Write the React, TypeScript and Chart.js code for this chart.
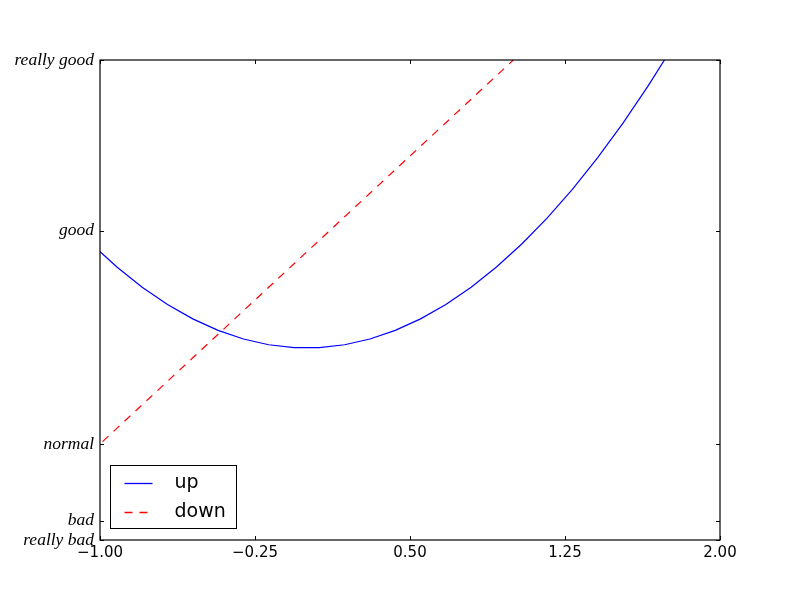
import React, { useEffect, useRef } from "react";
import { Chart, registerables } from "chart.js";

Chart.register(...registerables);

// x = sample positions (evenly spaced from -3 to 3, 50 points; visible part)
const xValues = [
  -1.040816, -0.918367, -0.795918, -0.673469, -0.55102, -0.428571, -0.306122,
  -0.183673, -0.061224, 0.061224, 0.183673, 0.306122, 0.428571, 0.55102,
  0.673469, 0.795918, 0.918367, 1.040816, 1.163265, 1.285714, 1.408163,
  1.530612, 1.653061, 1.77551, 1.897959, 2.020408,
];
const upValues = [
  1.083299, 0.843399, 0.633486, 0.453561, 0.303623, 0.183673, 0.093711,
  0.033736, 0.003748, 0.003748, 0.033736, 0.093711, 0.183673, 0.303623,
  0.453561, 0.633486, 0.843399, 1.083299, 1.353186, 1.653061, 1.982924,
  2.342774, 2.732611, 3.152436, 3.602249, 4.082049,
];
const downValues = [
  -1.081633, -0.836735, -0.591837, -0.346939, -0.102041, 0.142857, 0.387755,
  0.632653, 0.877551, 1.122449, 1.367347, 1.612245, 1.857143, 2.102041,
  2.346939, 2.591837, 2.836735, 3.081633, 3.326531, 3.571429, 3.816327,
  4.061224, 4.306122, 4.55102, 4.795918, 5.040816,
];
const xTicks = [-1, -0.25, 0.5, 1.25, 2];
const xTickLabels = ["\u22121.00", "\u22120.25", "0.50", "1.25", "2.00"];
const yTicks = [-2, -1.8, -1, 1.22, 3];
const yTickLabels = ["really bad", "bad", "normal", "good", "really good"];
const seriesLabels = ["up", "down"];

const frameAndLegend = {
  id: "frameAndLegend",
  afterDatasetsDraw(chart: any) {
    const { ctx, chartArea: a, scales } = chart;
    const xs = scales.x;
    const ys = scales.y;
    ctx.save();
    ctx.strokeStyle = "#000";
    ctx.lineWidth = 1;
    // ticks inward
    ctx.beginPath();
    xTicks.forEach((v) => {
      const px = Math.round(xs.getPixelForValue(v)) + 0.5;
      ctx.moveTo(px, a.bottom);
      ctx.lineTo(px, a.bottom - 4);
      ctx.moveTo(px, a.top);
      ctx.lineTo(px, a.top + 4);
    });
    yTicks.forEach((v) => {
      const py = Math.round(ys.getPixelForValue(v)) + 0.5;
      ctx.moveTo(a.left, py);
      ctx.lineTo(a.left + 4, py);
      ctx.moveTo(a.right, py);
      ctx.lineTo(a.right - 4, py);
    });
    ctx.stroke();
    // frame
    ctx.lineWidth = 1.2;
    ctx.strokeRect(a.left, a.top, a.right - a.left, a.bottom - a.top);

    // legend
    const bx = a.left + 10.5;
    const by = a.bottom - 74.5;
    const bw = 126;
    const bh = 63;
    ctx.fillStyle = "#fff";
    ctx.fillRect(bx, by, bw, bh);
    ctx.lineWidth = 1;
    ctx.strokeStyle = "#000";
    ctx.strokeRect(bx, by, bw, bh);
    const rowsY = [by + 17, by + 46];
    chart.data.datasets.forEach((ds: any, i: number) => {
      const y = rowsY[i];
      ctx.beginPath();
      ctx.strokeStyle = ds.borderColor;
      ctx.lineWidth = 1.3;
      ctx.setLineDash(ds.borderDash || []);
      ctx.moveTo(bx + 14, Math.round(y) + 0.5);
      ctx.lineTo(bx + 42, Math.round(y) + 0.5);
      ctx.stroke();
      ctx.setLineDash([]);
      ctx.fillStyle = "#000";
      ctx.font = "19px 'DejaVu Sans'";
      ctx.textBaseline = "middle";
      ctx.textAlign = "left";
      ctx.fillText(ds.label, bx + 64, y + 1);
    });
    ctx.restore();
  },
};

export default function App() {
  const ref = useRef<HTMLCanvasElement>(null);
  useEffect(() => {
    if (!ref.current) return;
    const chart = new Chart(ref.current, {
      type: "line",
      data: {
        datasets: [
          {
            label: seriesLabels[0],
            data: xValues.map((x, i) => ({ x, y: upValues[i] })),
            borderColor: "#0000ff",
            borderWidth: 1.2,
            pointRadius: 0,
            tension: 0,
            fill: false,
          },
          {
            label: seriesLabels[1],
            data: xValues.map((x, i) => ({ x, y: downValues[i] })),
            borderColor: "#ff0000",
            borderWidth: 1.2,
            borderDash: [8, 7],
            pointRadius: 0,
            tension: 0,
            fill: false,
          },
        ],
      },
      options: {
        animation: false,
        responsive: false,
        devicePixelRatio: 1,
        layout: { padding: { top: 60, right: 80, left: 0, bottom: 0 } },
        plugins: { legend: { display: false }, tooltip: { enabled: false } },
        scales: {
          x: {
            type: "linear",
            min: -1,
            max: 2,
            afterBuildTicks: (s: any) => {
              s.ticks = xTicks.map((v) => ({ value: v }));
            },
            afterFit: (s: any) => {
              s.height = 60;
            },
            grid: { display: false, tickLength: 0 },
            border: { display: false },
            ticks: {
              color: "#000",
              padding: 4,
              maxRotation: 0,
              font: { family: "'DejaVu Sans'", size: 15 },
              callback: (v: any) => xTickLabels[xTicks.indexOf(Number(v))] ?? "",
            },
          },
          y: {
            type: "linear",
            min: -2,
            max: 3,
            afterBuildTicks: (s: any) => {
              s.ticks = yTicks.map((v) => ({ value: v }));
            },
            afterFit: (s: any) => {
              s.width = 100;
            },
            grid: { display: false, tickLength: 0 },
            border: { display: false },
            ticks: {
              color: "#000",
              padding: 6,
              autoSkip: false,
              font: { family: "'Liberation Serif'", size: 17.5, style: "italic" },
              callback: (v: any) => {
                const idx = yTicks.findIndex((t) => Math.abs(t - Number(v)) < 1e-6);
                return idx >= 0 ? yTickLabels[idx] : "";
              },
            },
          },
        },
      },
      plugins: [frameAndLegend],
    });
    return () => chart.destroy();
  }, []);
  return (
    <div style={{ position: "fixed", left: 0, top: 0, width: 800, height: 600, background: "#fff" }}>
      <canvas ref={ref} width={800} height={600} style={{ width: 800, height: 600 }} />
    </div>
  );
}
